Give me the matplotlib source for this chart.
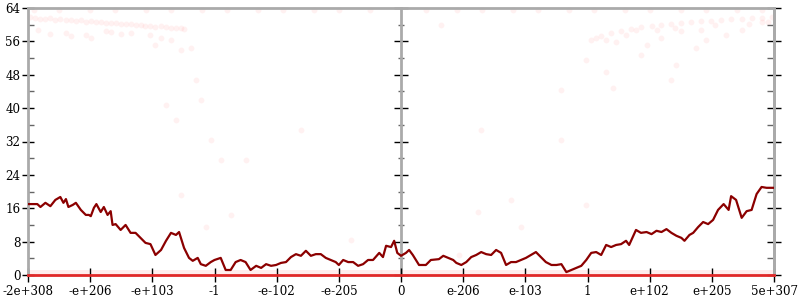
import numpy as np
import matplotlib as mpl
mpl.use("Agg")
import matplotlib.pyplot as plt
from matplotlib.ticker import MultipleLocator

mpl.rcParams['font.family'] = 'DejaVu Serif'
mpl.rcParams['font.size'] = 8.6

# x positions are in "tick steps": -6 .. 6
xtick_pos = [-6, -5, -4, -3, -2, -1, 0, 1, 2, 3, 4, 5, 6]
xtick_labels = ["-2e+308", "-e+206", "-e+103", "-1", "-e-102", "-e-205", "0",
                "e-206", "e-103", "1", "e+102", "e+205", "5e+307"]

# dark red line
line_x = [-6.0, -5.85, -5.80, -5.72, -5.64, -5.56, -5.48, -5.43, -5.39, -5.35,
          -5.28, -5.23, -5.15, -5.07, -5.02, -4.99, -4.94, -4.90, -4.83, -4.78,
          -4.72, -4.67, -4.64, -4.59, -4.51, -4.43, -4.35, -4.27, -4.19, -4.11,
          -4.03, -3.95, -3.86, -3.78, -3.70, -3.62, -3.57, -3.49, -3.41, -3.35,
          -3.27, -3.22, -3.14, -3.06, -3.00, -2.90, -2.82, -2.74, -2.66, -2.58,
          -2.50, -2.42, -2.33, -2.25, -2.17, -2.09, -2.01, -1.93, -1.85, -1.77,
          -1.69, -1.61, -1.53, -1.45, -1.37, -1.29, -1.21, -1.13, -1.05, -1.00,
          -0.93, -0.85, -0.77, -0.69, -0.61, -0.53, -0.45, -0.35, -0.29, -0.24,
          -0.16, -0.11, -0.06, 0.0, 0.08, 0.13, 0.19, 0.29, 0.40, 0.48,
          0.61, 0.68, 0.76, 0.84, 0.89, 0.97, 1.05, 1.13, 1.21, 1.29,
          1.37, 1.45, 1.53, 1.61, 1.69, 1.77, 1.85, 1.93, 2.01, 2.09,
          2.17, 2.25, 2.33, 2.42, 2.50, 2.58, 2.66, 2.74, 2.82, 2.90,
          2.98, 3.06, 3.14, 3.22, 3.30, 3.38, 3.46, 3.54, 3.62, 3.67,
          3.78, 3.86, 3.95, 4.03, 4.11, 4.19, 4.27, 4.35, 4.43, 4.51,
          4.56, 4.64, 4.70, 4.78, 4.86, 4.94, 5.02, 5.10, 5.19, 5.27,
          5.31, 5.39, 5.48, 5.56, 5.64, 5.72, 5.80, 5.88, 6.0]
line_y = [17.0, 17.0, 16.3, 17.3, 16.5, 18.0, 18.7, 17.3, 18.2, 16.3,
          16.8, 17.3, 15.6, 14.4, 14.4, 14.1, 16.1, 17.0, 15.1, 16.3,
          14.4, 15.3, 12.0, 12.2, 10.8, 12.0, 10.1, 10.1, 8.9, 7.7,
          7.4, 4.8, 6.0, 8.2, 10.1, 9.6, 10.3, 6.5, 4.1, 3.4,
          4.1, 2.6, 2.2, 3.1, 3.6, 4.1, 1.2, 1.2, 3.1, 3.6,
          3.1, 1.2, 2.2, 1.7, 2.6, 2.2, 2.4, 2.9, 3.1, 4.3,
          5.0, 4.6, 5.8, 4.6, 5.0, 5.0, 4.1, 3.6, 3.1, 2.4,
          3.6, 3.1, 3.1, 2.2, 2.6, 3.6, 3.6, 5.3, 4.3, 7.0,
          6.7, 8.2, 5.3, 4.6, 5.3, 6.0, 4.8, 2.4, 2.4, 3.6,
          3.8, 4.6, 4.1, 3.6, 2.9, 2.4, 3.1, 4.3, 4.8, 5.5,
          5.0, 4.8, 6.0, 5.3, 2.4, 3.1, 3.1, 3.6, 4.1, 4.8,
          5.5, 4.3, 3.1, 2.4, 2.4, 2.6, 0.7, 1.2, 1.7, 2.2,
          3.6, 5.3, 5.5, 4.8, 7.2, 6.7, 7.2, 7.4, 8.2, 7.2,
          10.8, 10.1, 10.3, 9.8, 10.6, 10.3, 11.0, 10.1, 9.4, 8.9,
          8.2, 9.6, 10.1, 11.5, 12.7, 12.2, 13.2, 15.6, 17.0, 15.6,
          18.9, 18.0, 13.7, 15.3, 15.6, 19.4, 21.1, 20.9, 20.9]

# faint scatter: cluster near the top on the left
top_left_x = [-5.96, -5.88, -5.80, -5.72, -5.64, -5.56, -5.48, -5.39, -5.31, -5.23,
              -5.15, -5.07, -4.99, -4.91, -4.83, -4.75, -4.67, -4.59, -4.51, -4.43,
              -4.35, -4.27, -4.19, -4.11, -4.03, -3.95, -3.86, -3.78, -3.70, -3.62,
              -3.54, -3.49, -5.84, -5.64, -5.39, -5.31, -5.07, -4.99, -4.75, -4.67,
              -4.51, -4.35, -4.03, -3.95, -3.86, -3.70, -3.54, -3.38]
top_left_y = [61.9, 61.6, 61.4, 61.4, 61.6, 61.2, 61.4, 61.2, 61.2, 60.9,
              61.2, 60.7, 60.9, 60.7, 60.7, 60.4, 60.4, 60.4, 60.2, 60.2,
              60.2, 60.0, 60.0, 59.7, 59.7, 59.5, 59.7, 59.5, 59.2, 59.2,
              59.2, 59.0, 58.8, 57.8, 58.1, 57.3, 57.6, 56.8, 58.5, 58.3,
              57.8, 58.1, 57.6, 55.2, 56.8, 56.4, 54.0, 54.4]

# faint scatter: cluster near the top on the right
top_right_x = [3.06, 3.14, 3.22, 3.38, 3.54, 3.70, 3.86, 4.03, 4.19, 4.35,
               4.51, 4.67, 4.83, 4.99, 5.15, 5.31, 5.48, 5.64, 5.80, 5.96,
               3.30, 3.46, 3.62, 3.78, 4.11, 4.19, 4.91, 5.23, 5.48, 4.83,
               5.80, 4.51, 5.05, 5.60, 5.90, 4.40]
top_right_y = [56.4, 56.8, 57.3, 58.0, 58.5, 59.0, 59.5, 59.7, 60.0, 60.2,
               60.4, 60.7, 60.9, 60.9, 61.2, 61.4, 61.4, 61.6, 61.6, 61.9,
               56.4, 55.9, 57.6, 58.8, 58.8, 56.8, 56.4, 57.6, 58.8, 58.8,
               60.7, 58.5, 59.9, 60.2, 60.6, 59.3]

# faint scatter: points along the top edge
top_row_x = [-5.9, -5.5, -5.0, -4.6, -4.1, -3.7, -3.2, -2.8, -2.3, -1.9,
             -1.4, -1.0, -0.5, 0.4, 0.9, 1.3, 1.8, 2.2, 2.7, 3.1,
             3.6, 4.0, 4.5, 4.9, 5.4, 5.8]
top_row_y = [63.6] * len(top_row_x)

# faint scatter: sparse points
sparse_x = [-3.30, -3.78, -3.22, -3.06, -2.90, -3.62, -3.54, -2.50, -1.61, -0.81,
            0.93, 1.24, 1.77, 0.64, 1.29, 2.58, 2.98, 1.93, 3.30, 3.41,
            4.35, 4.43, 2.58, 2.98, 3.95, 3.86, 4.75, -2.74, -3.14]
sparse_y = [46.8, 40.8, 42.0, 32.4, 27.6, 37.2, 19.2, 27.6, 34.8, 8.4,
            4.8, 15.1, 18.0, 60.0, 34.8, 32.4, 16.8, 11.5, 48.7, 44.8,
            46.8, 50.4, 44.4, 51.6, 55.2, 52.8, 54.4, 14.4, 11.5]

fig = plt.figure(figsize=(8, 3), dpi=100)
ax = fig.add_axes([28 / 800, 25 / 300, 746 / 800, 267 / 300])

pt_style = dict(s=18, color="#ff2020", alpha=0.06, linewidths=0)
for xs, ys in [(top_left_x, top_left_y), (top_right_x, top_right_y),
               (top_row_x, top_row_y), (sparse_x, sparse_y)]:
    ax.scatter(xs, ys, clip_on=False, **pt_style)

# dense band of points sitting at zero
ax.axhspan(0, 1.2, color="#ff2020", alpha=0.08, lw=0)

ax.plot(line_x, line_y, color="#8b0000", lw=1.6, zorder=3)

ax.set_xlim(-6, 6)
ax.set_ylim(0, 64)
ax.set_xticks(xtick_pos)
ax.set_xticklabels(xtick_labels)
ax.yaxis.set_major_locator(MultipleLocator(8))
ax.yaxis.set_minor_locator(MultipleLocator(4))

for side in ["left", "right", "top"]:
    ax.spines[side].set_color("#aaaaaa")
    ax.spines[side].set_linewidth(2)
ax.spines["bottom"].set_color("#e02828")
ax.spines["bottom"].set_linewidth(2)

ax.tick_params(axis="x", direction="inout", length=10, width=1, color="k", pad=2)
ax.tick_params(axis="y", which="major", direction="inout", length=9, width=1, color="k", pad=1)
ax.tick_params(axis="y", which="minor", direction="in", length=4, width=1, color="#666666")

# unlabeled axes in the middle and on the right
mid = ax.secondary_yaxis(0.5)
right = ax.secondary_yaxis("right")
for sec, mdir in [(mid, "inout"), (right, "in")]:
    sec.yaxis.set_major_locator(MultipleLocator(8))
    sec.yaxis.set_minor_locator(MultipleLocator(4))
    sec.spines["left"].set_color("#aaaaaa")
    sec.spines["right"].set_color("#aaaaaa")
    sec.spines["left"].set_linewidth(1.5)
    sec.spines["right"].set_linewidth(2)
    sec.tick_params(which="major", direction="inout", length=10, width=1, color="k",
                    labelleft=False, labelright=False)
    sec.tick_params(which="minor", direction=mdir, length=5, width=1, color="#666666")

fig.savefig("out.png", dpi=100)
